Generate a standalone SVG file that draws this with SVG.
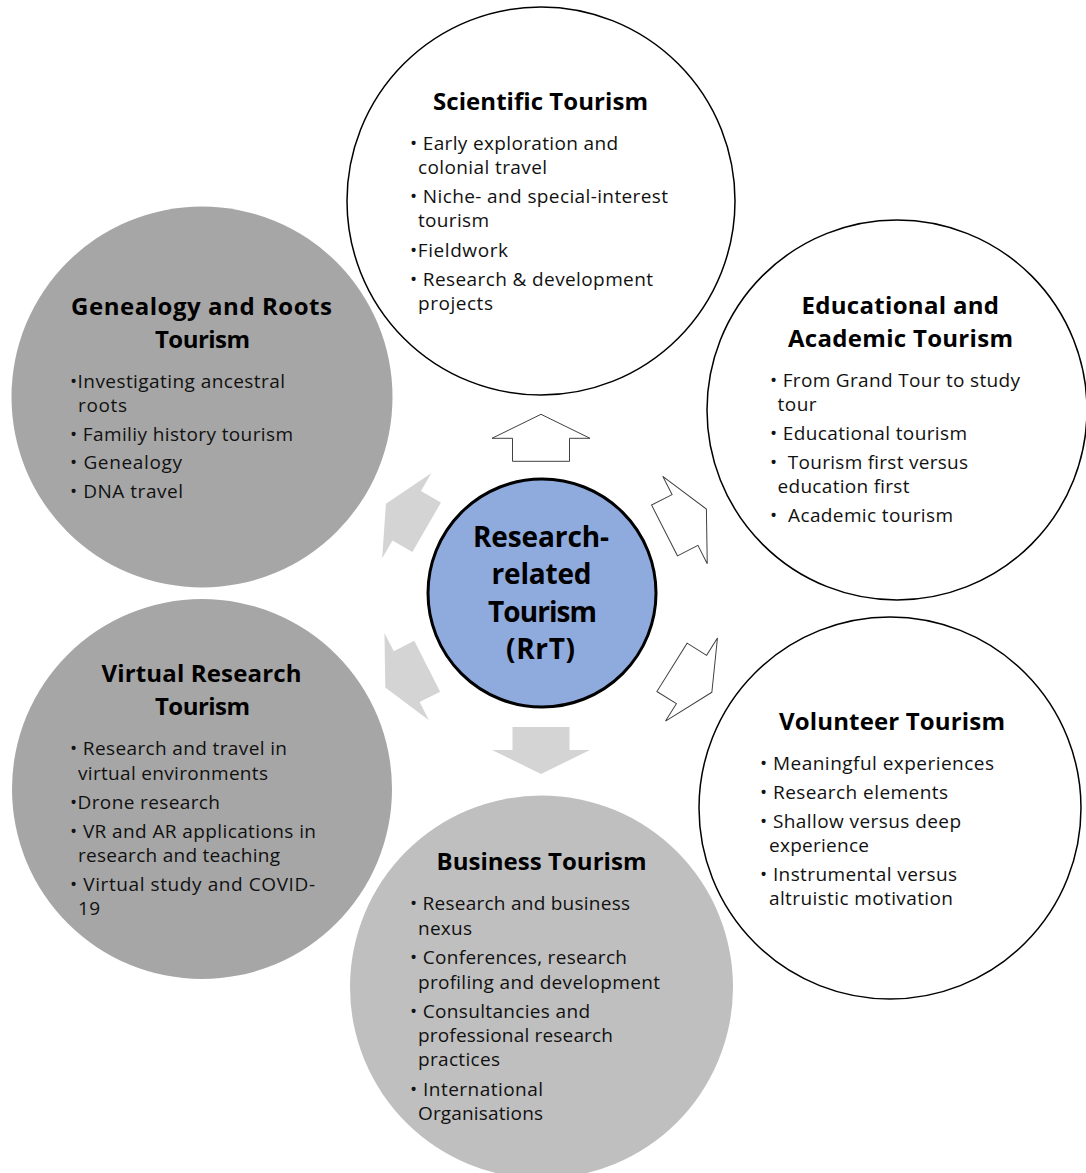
<svg xmlns="http://www.w3.org/2000/svg" width="1086" height="1173" viewBox="0 0 1086 1173">
<style>
.w{fill:#fff;stroke:#000;stroke-width:1.5}
.g1{fill:#a6a6a6}
.g2{fill:#bfbfbf}
.t{font-family:"Open Sans","Liberation Sans",sans-serif;font-weight:700;font-size:24px;fill:#000}
.b{font-family:"Open Sans","Liberation Sans",sans-serif;font-size:19px;fill:#111;white-space:pre}
.c{font-family:"Open Sans","Liberation Sans",sans-serif;font-weight:700;font-size:28px;fill:#000}
.ao{fill:#fff;stroke:#404040;stroke-width:1}
.ag{fill:#d4d4d4}
</style>
<defs>
<polygon id="arr" points="0,-24 49,0 28.5,0 28.5,23 -28.5,23 -28.5,0 -49,0"/>
</defs>
<rect width="1086" height="1173" fill="#fff"/>

<g id="scientific">
<circle class="w" cx="541" cy="201" r="194"/>
<text class="t" x="433" y="110" textLength="215">Scientific Tourism</text>
<text class="b" x="410" y="150" textLength="208">• Early exploration and</text>
<text class="b" x="418" y="174" textLength="129">colonial travel</text>
<text class="b" x="410" y="203" textLength="258">• Niche- and special-interest</text>
<text class="b" x="418" y="227" textLength="71">tourism</text>
<text class="b" x="410" y="256.5" textLength="98">•Fieldwork</text>
<text class="b" x="410" y="286" textLength="243">• Research &amp; development</text>
<text class="b" x="418" y="310" textLength="75">projects</text>
</g>

<g id="genealogy">
<circle class="g1" cx="202" cy="397" r="190.5"/>
<text class="t" x="71" y="315" textLength="261">Genealogy and Roots</text>
<text class="t" x="155" y="348" textLength="95">Tourism</text>
<text class="b" x="70" y="387.5" textLength="215">•Investigating ancestral</text>
<text class="b" x="78" y="412" textLength="49">roots</text>
<text class="b" x="70" y="440.5" textLength="223">• Familiy history tourism</text>
<text class="b" x="70" y="469" textLength="112">• Genealogy</text>
<text class="b" x="70" y="498" textLength="113">• DNA travel</text>
</g>

<g id="educational">
<circle class="w" cx="897" cy="410" r="190"/>
<text class="t" x="801.5" y="313.5" textLength="197.5">Educational and</text>
<text class="t" x="788" y="346.5" textLength="225">Academic Tourism</text>
<text class="b" x="770" y="387" textLength="250">• From Grand Tour to study</text>
<text class="b" x="777.5" y="411" textLength="39">tour</text>
<text class="b" x="770" y="440" textLength="197">• Educational tourism</text>
<text class="b" x="770" y="468.5" textLength="198">•  Tourism first versus</text>
<text class="b" x="777.5" y="493" textLength="132">education first</text>
<text class="b" x="770" y="522" textLength="183">•  Academic tourism</text>
</g>

<g id="virtual">
<circle class="g1" cx="202" cy="789" r="190"/>
<text class="t" x="101.5" y="682" textLength="200">Virtual Research</text>
<text class="t" x="155" y="715" textLength="95">Tourism</text>
<text class="b" x="70" y="755" textLength="217">• Research and travel in</text>
<text class="b" x="78" y="779.5" textLength="190">virtual environments</text>
<text class="b" x="70" y="808.5" textLength="150">•Drone research</text>
<text class="b" x="70" y="837.5" textLength="246">• VR and AR applications in</text>
<text class="b" x="78" y="862" textLength="202">research and teaching</text>
<text class="b" x="70" y="891" textLength="245">• Virtual study and COVID-</text>
<text class="b" x="78" y="915" textLength="22">19</text>
</g>

<g id="volunteer">
<circle class="w" cx="890" cy="808" r="191"/>
<text class="t" x="779" y="730" textLength="226">Volunteer Tourism</text>
<text class="b" x="760" y="770" textLength="234">• Meaningful experiences</text>
<text class="b" x="760" y="799" textLength="188">• Research elements</text>
<text class="b" x="760" y="828" textLength="201">• Shallow versus deep</text>
<text class="b" x="769" y="852" textLength="100">experience</text>
<text class="b" x="760" y="881" textLength="197">• Instrumental versus</text>
<text class="b" x="769" y="905" textLength="184">altruistic motivation</text>
</g>

<g id="business">
<circle class="g2" cx="541.5" cy="987" r="191.5"/>
<text class="t" x="436.5" y="870" textLength="210">Business Tourism</text>
<text class="b" x="410" y="910" textLength="220">• Research and business</text>
<text class="b" x="418" y="934.5" textLength="54">nexus</text>
<text class="b" x="410" y="964" textLength="217">• Conferences, research</text>
<text class="b" x="418" y="988.5" textLength="242">profiling and development</text>
<text class="b" x="410" y="1017.5" textLength="180">• Consultancies and</text>
<text class="b" x="418" y="1042" textLength="195">professional research</text>
<text class="b" x="418" y="1066" textLength="82">practices</text>
<text class="b" x="410" y="1096" textLength="133">• International</text>
<text class="b" x="418" y="1120" textLength="125">Organisations</text>
</g>

<g id="connectors">
<use href="#arr" class="ao" transform="translate(541,438.3)"/>
<use href="#arr" class="ao" transform="translate(685,520) rotate(63)"/>
<use href="#arr" class="ao" transform="translate(691.5,679.5) rotate(122)"/>
<use href="#arr" class="ag" transform="translate(541,750) rotate(180)"/>
<use href="#arr" class="ag" transform="translate(406.7,676.7) rotate(-117)"/>
<use href="#arr" class="ag" transform="translate(406.7,515.8) rotate(-60)"/>
</g>

<g id="center">
<circle cx="542" cy="593" r="114" fill="#8faadc" stroke="#000" stroke-width="3"/>
<text class="c" x="473" y="547" textLength="136">Research-</text>
<text class="c" x="491.5" y="584" textLength="100">related</text>
<text class="c" x="488" y="622" textLength="109">Tourism</text>
<text class="c" x="506" y="658.5" textLength="69">(RrT)</text>
</g>
</svg>
